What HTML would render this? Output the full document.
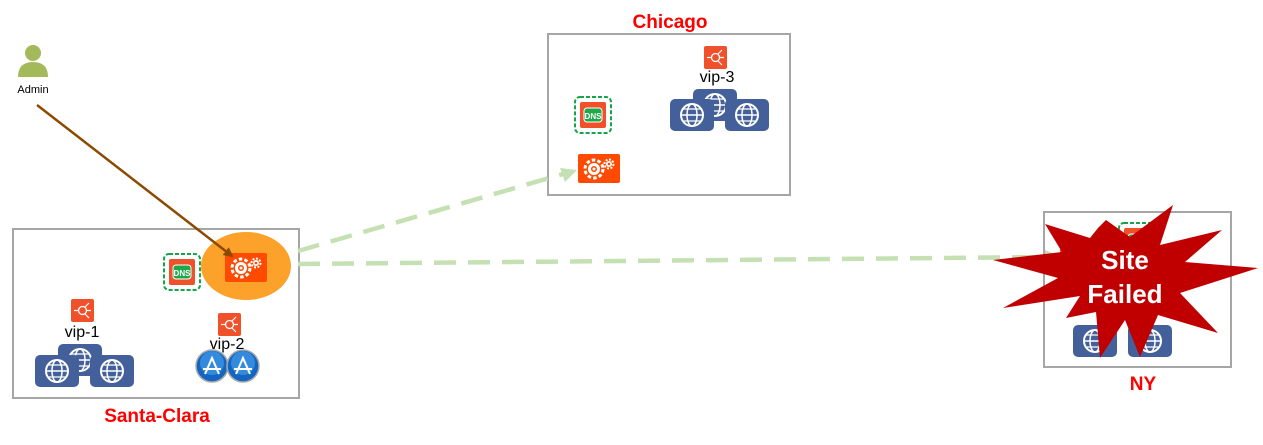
<!DOCTYPE html>
<html><head><meta charset="utf-8"><style>
html,body{margin:0;padding:0;background:#fff;}
svg text{font-family:"Liberation Sans",Arial,sans-serif;}
</style></head><body>
<svg width="1263" height="440" viewBox="0 0 1263 440" xmlns="http://www.w3.org/2000/svg">
<defs>
  <g id="globe">
    <rect x="0" y="0" width="44" height="32" rx="5" fill="#44609a"/>
    <circle cx="22" cy="16" r="11" fill="none" stroke="#fff" stroke-width="2"/>
    <ellipse cx="22" cy="16" rx="5" ry="11" fill="none" stroke="#fff" stroke-width="1.5"/>
    <line x1="11" y1="16" x2="33" y2="16" stroke="#fff" stroke-width="1.5"/>
    <line x1="13" y1="10" x2="31" y2="10" stroke="#fff" stroke-width="1.2"/>
    <line x1="13" y1="22" x2="31" y2="22" stroke="#fff" stroke-width="1.2"/>
  </g>
  <g id="vip">
    <rect x="0" y="0" width="23" height="23" rx="2" fill="#f0502a"/>
    <circle cx="11.5" cy="11.5" r="4" fill="none" stroke="#fff" stroke-width="1.3"/>
    <path d="M3 11.5h4M16 11.5h4M14 8l4-4M14 15l4 4" stroke="#fff" stroke-width="1.2"/>
  </g>
  <g id="dns">
    <rect x="0" y="0" width="36" height="36" rx="5" fill="none" stroke="#17a34a" stroke-width="2" stroke-dasharray="4,2"/>
    <rect x="5" y="5" width="26" height="26" rx="2" fill="#f0502a"/>
    <rect x="9" y="11" width="18" height="14" rx="3" fill="#1fa84a" stroke="#fff" stroke-width="1"/>
    <text x="18" y="22" font-size="8" font-weight="bold" fill="#fff" text-anchor="middle">DNS</text>
  </g>
  <g id="gear">
    <rect x="0" y="0" width="42" height="29" rx="2" fill="#ff4a00"/>
    <circle cx="16" cy="15" r="9" fill="none" stroke="#fff" stroke-width="3" stroke-dasharray="3.5,2.2"/>
    <circle cx="16" cy="15" r="6" fill="#fff"/>
    <circle cx="16" cy="15" r="3" fill="#ff4a00"/>
    <circle cx="16" cy="15" r="1.5" fill="#fff"/>
    <circle cx="31" cy="10" r="4.5" fill="none" stroke="#fff" stroke-width="2" stroke-dasharray="2,1.5"/>
    <circle cx="31" cy="10" r="3" fill="#fff"/>
    <circle cx="31" cy="10" r="1.3" fill="#ff4a00"/>
  </g>
  <g id="app">
    <circle cx="0" cy="0" r="16" fill="#1565c0" stroke="#aaa" stroke-width="1.5"/>
    <circle cx="0" cy="-3" r="12" fill="#4aa3f0" opacity="0.6"/>
    <path d="M-7 8L0 -8L7 8M-9 3h18" stroke="#fff" stroke-width="2" fill="none"/>
  </g>
  <marker id="ah" markerWidth="10" markerHeight="10" refX="8" refY="5" orient="auto" markerUnits="userSpaceOnUse">
    <path d="M0 0L10 5L0 10z" fill="#8b4a00"/>
  </marker>
</defs>

<!-- Admin -->
<circle cx="33" cy="53" r="8" fill="#a4b95a"/>
<path d="M18 77 Q18 62 33 62 Q48 62 48 77z" fill="#a4b95a"/>
<text x="33" y="93" font-size="11" text-anchor="middle" fill="#000">Admin</text>

<!-- Boxes -->
<rect x="13" y="229" width="286" height="169" fill="none" stroke="#a6a6a6" stroke-width="2"/>
<rect x="548" y="34" width="242" height="161" fill="none" stroke="#a6a6a6" stroke-width="2"/>
<rect x="1044" y="212" width="187" height="155" fill="none" stroke="#a6a6a6" stroke-width="2"/>

<text x="157" y="422" font-size="19" font-weight="bold" fill="#ff0000" text-anchor="middle">Santa-Clara</text>
<text x="670" y="28" font-size="19" font-weight="bold" fill="#ff0000" text-anchor="middle">Chicago</text>
<text x="1143" y="390" font-size="19" font-weight="bold" fill="#ff0000" text-anchor="middle">NY</text>

<!-- Santa Clara contents -->
<ellipse cx="246" cy="266" rx="45" ry="34" fill="#fca12a"/>
<use href="#gear" x="225" y="253"/>
<use href="#dns" x="164" y="254"/>
<use href="#vip" x="71" y="299"/>
<text x="82" y="337" font-size="16" text-anchor="middle">vip-1</text>
<use href="#globe" x="58" y="344"/>
<use href="#globe" x="35" y="355"/>
<use href="#globe" x="90" y="355"/>
<use href="#vip" x="218" y="313"/>
<text x="227" y="349" font-size="16" text-anchor="middle">vip-2</text>
<use href="#app" x="212" y="366"/>
<use href="#app" x="243" y="366"/>

<!-- Chicago contents -->
<use href="#dns" x="575" y="97"/>
<use href="#gear" x="578" y="154"/>
<use href="#vip" x="704" y="46"/>
<text x="717" y="82" font-size="16" text-anchor="middle">vip-3</text>
<use href="#globe" x="693" y="89"/>
<use href="#globe" x="670" y="99"/>
<use href="#globe" x="725" y="99"/>

<!-- Connectors -->
<line x1="37" y1="105" x2="232" y2="256" stroke="#8b4a00" stroke-width="2.5" marker-end="url(#ah)"/>
<line x1="298" y1="251" x2="563" y2="174" stroke="#c5e0b3" stroke-width="4.5" stroke-dasharray="22,12"/>
<path d="M560 168L577 170L565 182z" fill="#c5e0b3"/>
<line x1="298" y1="264" x2="1048" y2="257" stroke="#c5e0b3" stroke-width="4.5" stroke-dasharray="22,12"/>
<path d="M1045 250L1062 257L1045 264z" fill="#c5e0b3"/>

<!-- NY contents (behind starburst) -->
<rect x="1060" y="240" width="30" height="22" fill="#ff4a00"/>
<use href="#dns" x="1119" y="223"/>
<use href="#globe" x="1073" y="325"/>
<use href="#globe" x="1128" y="325"/>

<!-- Starburst -->
<polygon fill="#c00000" points="1173,205 1160,245 1222,230 1185,262 1258,268 1180,293 1218,333 1158,315 1140,357 1125,320 1100,358 1096,312 1066,318 1080,296 1003,308 1058,278 993,260 1062,252 1045,224 1090,238 1098,228 1106,220 1130,237" />
<text x="1125" y="269" font-size="26" font-weight="bold" fill="#fff" text-anchor="middle">Site</text>
<text x="1125" y="303" font-size="26" font-weight="bold" fill="#fff" text-anchor="middle">Failed</text>
</svg>
</body></html>
